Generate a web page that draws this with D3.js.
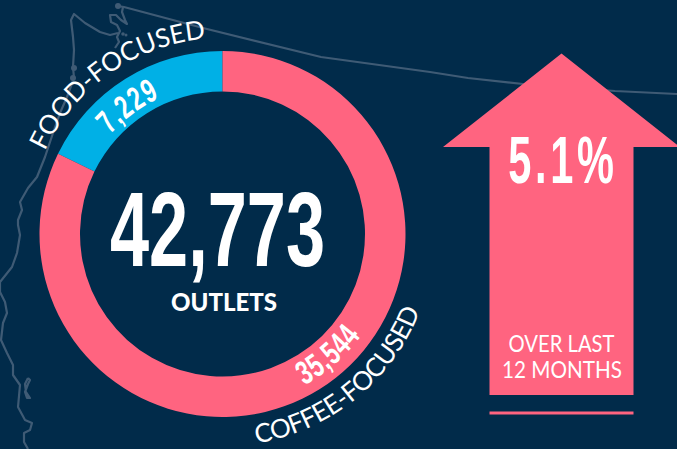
<!DOCTYPE html>
<html><head><meta charset="utf-8">
<script src="https://cdn.jsdelivr.net/npm/d3@7"></script>
<style>html,body{margin:0;padding:0;background:#012b4a;overflow:hidden}svg{display:block}</style>
</head><body><svg id="c" width="677" height="449"></svg>
<script>
// Printed labels
const total = "42,773";
const totalLabel = "OUTLETS";
const categories = ["FOOD-FOCUSED", "COFFEE-FOCUSED"];
const valueLabels = ["7,229", "35,544"];
const sliceDegrees = [64, 296];
const sliceColors = ["#00b0e6", "#ff6480"];
const growth = "5.1%";
const growthNote = ["OVER LAST", "12 MONTHS"];
// Faint background map
const borderLine = [[118,6],[124,7],[203,28],[321,57],[430,72],[468,78],[523,84],[615,91],[677,94]];
const coastLine = [[118,33],[110,35],[100,32],[85,23],[74,14],[71,20],[73,37],[74,50],[73,67],[74,78],[67,97],[60,113],[53,133],[45,157],[37,177],[28,188],[20,202],[22,210],[18,220],[18,225],[20,235],[17,253],[12,267],[0,282],[0,292],[5,302],[7,313],[3,323],[1,340],[7,353],[13,365],[13,375],[20,385],[18,407],[25,420],[32,423],[30,430],[24,433],[24,442],[28,449]];
const soundLine = [[123,7],[122,12],[125,20],[127,24],[121,20],[116,15],[110,15],[111,22],[117,25],[120,31],[117,37],[119,42],[115,48]];
const islandLine = [[28,378],[25,384],[26,392],[30,398],[27,398],[25,392],[28,384],[30,380],[28,378]];

const svg = d3.select("#c");
const bg = "#012b4a";
svg.append("rect").attr("width",677).attr("height",449).attr("fill",bg);

const line = d3.line();
const mapColor = "#3f5b75";
const mapG = svg.append("g").attr("fill","none").attr("stroke",mapColor).attr("stroke-width",2.2).attr("stroke-linejoin","round");
[borderLine, coastLine, soundLine, islandLine].forEach(l => mapG.append("path").attr("d", line(l)));
[[118,6,3],[123,34,1.8],[126,35,1.5],[74,68,3],[73,78,3]].forEach(c =>
  mapG.append("circle").attr("cx",c[0]).attr("cy",c[1]).attr("r",c[2]).attr("fill",mapColor).attr("stroke","none"));

// Ring
const cx = 222.5, cy = 234;
const rOuter = 183, rInner = 142.5;
const ringG = svg.append("g").attr("transform",`translate(${cx},${cy})`);
const pie = d3.pie().sort(null).value(d => d)
  .startAngle(-sliceDegrees[0]*Math.PI/180).endAngle((360-sliceDegrees[0])*Math.PI/180);
const arc = d3.arc().innerRadius(rInner).outerRadius(rOuter);
ringG.selectAll("path").data(pie(sliceDegrees)).join("path")
  .attr("d",arc).attr("fill",(d,i)=>sliceColors[i]);

// Text along a circle, glyph by glyph
function arcText(str, opt){
  const g = ringG.append("g").attr("fill","#fff").attr("font-family",opt.font)
    .attr("font-weight",opt.weight).attr("font-size",opt.size);
  const probe = g.append("text").attr("opacity",0);
  const w = Array.from(str).map(ch => { probe.text(ch); return probe.node().getComputedTextLength()*opt.sx + opt.gap; });
  probe.remove();
  const totalW = d3.sum(w);
  let pos = -totalW/2;
  Array.from(str).forEach((ch,i) => {
    const mid = pos + w[i]/2;
    const sign = opt.flip ? -1 : 1;
    const a = opt.angle + sign*mid/opt.r;          // clock angle in radians
    const x = opt.r*Math.sin(a), y = -opt.r*Math.cos(a);
    const rot = (a*180/Math.PI) + (opt.flip ? 180 : 0);
    g.append("text").attr("text-anchor","middle")
      .attr("transform",`translate(${x},${y}) rotate(${rot}) scale(${opt.sx},1)`).text(ch);
    pos += w[i];
  });
}
const deg = Math.PI/180;
const labelFont = "Lato, 'Noto Sans', sans-serif";
const numFont = "'Liberation Sans Narrow', 'Liberation Sans', sans-serif";
arcText(categories[0], {r:196, angle:-34.9*deg, size:26, weight:400, font:labelFont, sx:1, gap:-0.1});
arcText(categories[1], {r:212, angle:141*deg, size:26, weight:400, font:labelFont, sx:1, gap:-0.6, flip:true});
arcText(valueLabels[0], {r:150, angle:-36.7*deg, size:33, weight:700, font:numFont, sx:0.7, gap:1});
arcText(valueLabels[1], {r:172, angle:139*deg, size:33, weight:700, font:numFont, sx:0.7, gap:1, flip:true});

// Centre number
svg.append("text").attr("x",cx-5).attr("y",266).attr("text-anchor","middle")
  .attr("font-family",numFont).attr("font-weight",700).attr("font-size",106)
  .attr("fill","#fff").attr("textLength",215).attr("lengthAdjust","spacingAndGlyphs").text(total);
svg.append("text").attr("x",224).attr("y",311).attr("text-anchor","middle")
  .attr("font-family",labelFont).attr("font-weight",900).attr("font-size",24)
  .attr("fill","#fff").attr("textLength",106).attr("lengthAdjust","spacingAndGlyphs").text(totalLabel);

// Arrow
const arrowPts = [[561.5,53.5],[680,147],[633.5,147],[633.5,395],[489.5,395],[489.5,147],[443,147]];
svg.append("path").attr("d",d3.line()(arrowPts)+"Z").attr("fill","#ff6480");
svg.append("rect").attr("x",489.5).attr("y",411.5).attr("width",144).attr("height",3).attr("fill","#ff6480");

svg.append("text").attr("transform","translate(563,183) scale(0.62,1)").attr("text-anchor","middle")
  .attr("font-family",numFont).attr("font-weight",700).attr("font-size",67)
  .attr("letter-spacing",6).attr("fill","#fff").text(growth);
growthNote.forEach((t,i)=>{
  svg.append("text").attr("x",[561.5,562][i]).attr("y",[352,378][i]).attr("text-anchor","middle")
    .attr("font-family",labelFont).attr("font-weight",400).attr("font-size",23)
    .attr("fill","#fff").attr("textLength",[106,120][i]).attr("lengthAdjust","spacingAndGlyphs").text(t);
});
</script></body></html>
